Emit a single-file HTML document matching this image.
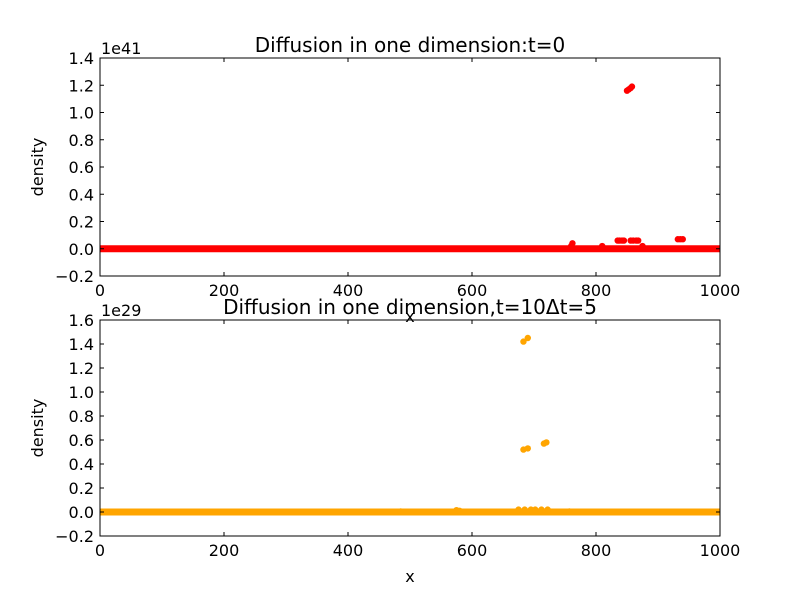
<!DOCTYPE html>
<html><head><meta charset="utf-8"><style>
body{margin:0;background:#fff;}
svg text{font-family:"DejaVu Sans","Liberation Sans",sans-serif;}
</style></head><body>
<svg id="c" width="800" height="596" xmlns="http://www.w3.org/2000/svg"></svg>
<script>
const xTicks=[0,200,400,600,800,1000];
const topTicks=[-0.2,0.0,0.2,0.4,0.6,0.8,1.0,1.2,1.4];
const botTicks=[-0.2,0.0,0.2,0.4,0.6,0.8,1.0,1.2,1.4,1.6];
const topSpikeX=[850,853,856,858,760,762,810,835,838,842,845,856,860,865,868,875,932,936,940];
const topSpikeY=[1.16,1.17,1.18,1.19,0.02,0.04,0.02,0.06,0.06,0.06,0.06,0.06,0.06,0.06,0.06,0.02,0.07,0.07,0.07];
const botSpikeX=[683,690,683,690,716,720,485,575,580,675,685,695,702,712,722,757];
const botSpikeY=[1.42,1.45,0.52,0.53,0.57,0.58,0.005,0.015,0.01,0.02,0.02,0.02,0.02,0.02,0.02,0.005];
const NS="http://www.w3.org/2000/svg";
const svg=document.getElementById('c');
function el(t,a,p){const e=document.createElementNS(NS,t);for(const k in a)e.setAttribute(k,a[k]);(p||svg).appendChild(e);return e;}
function panel(top,bottom,ymin,ymax,ticks,title,exp,color,sx,sy,name){
  const L=100,R=720;
  const X=v=>L+(v-0)/1000*(R-L);
  const Y=v=>bottom-(v-ymin)/(ymax-ymin)*(bottom-top);
  const g=el('g',{});
  
  
  const base=el('line',{x1:X(0),x2:X(1000),y1:Y(0),y2:Y(0),stroke:color,'stroke-width':7},g);
  
  
  for(let i=0;i<sx.length;i++){
    const c=el('circle',{cx:X(sx[i]),cy:Y(sy[i]),r:3.2,fill:color},g);
    
    
  }
  const f=el('rect',{x:L,y:top,width:R-L,height:bottom-top,fill:'none',stroke:'#000','stroke-width':1},g);
  
  
  xTicks.forEach(v=>{
    el('line',{x1:X(v),x2:X(v),y1:bottom,y2:bottom-4,stroke:'#000'},g);
    el('line',{x1:X(v),x2:X(v),y1:top,y2:top+4,stroke:'#000'},g);
    const t=el('text',{x:X(v),y:bottom+20,'font-size':16,'text-anchor':'middle'},g);t.textContent=v;
    
    
  });
  ticks.forEach(v=>{
    el('line',{x1:L,x2:L+4,y1:Y(v),y2:Y(v),stroke:'#000'},g);
    el('line',{x1:R,x2:R-4,y1:Y(v),y2:Y(v),stroke:'#000'},g);
    const t=el('text',{x:L-6,y:Y(v)+6,'font-size':16,'text-anchor':'end'},g);
    t.textContent=(v<0?'\u2212':'')+Math.abs(v).toFixed(1);
    
    
  });
  const ti=el('text',{x:410,y:top-6,'font-size':20,'text-anchor':'middle'},g);ti.textContent=title;
  
  
  const ex=el('text',{x:101,y:top-4,'font-size':16},g);ex.textContent=exp;
  
  
  const yl=el('text',{x:0,y:0,'font-size':16,'text-anchor':'middle',transform:`translate(43,${(top+bottom)/2}) rotate(-90)`},g);yl.textContent='density';
  
  
  const xl=el('text',{x:410,y:bottom+46,'font-size':16,'text-anchor':'middle'},g);xl.textContent='x';
  
  
}
panel(58,276,-0.2,1.4,topTicks,'Diffusion in one dimension:t=0','1e41','#ff0000',topSpikeX,topSpikeY,'top-panel');
panel(320,536,-0.2,1.6,botTicks,'Diffusion in one dimension,t=10\u0394t=5','1e29','#ffa500',botSpikeX,botSpikeY,'bottom-panel');
</script>
</body></html>
